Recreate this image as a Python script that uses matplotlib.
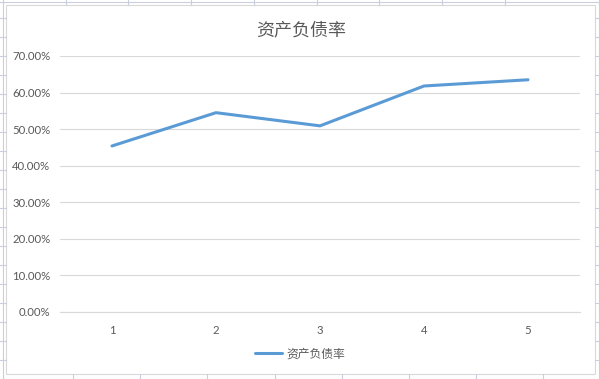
import matplotlib
matplotlib.use("Agg")
from matplotlib import pyplot as plt
from matplotlib.lines import Line2D
from matplotlib.patches import Rectangle
from matplotlib.ticker import PercentFormatter

# data
categories = [1, 2, 3, 4, 5]
debt_ratio = [0.454, 0.545, 0.509, 0.618, 0.635]
y_ticks = [0.0, 0.1, 0.2, 0.3, 0.4, 0.5, 0.6, 0.7]
title = "资产负债率"
series_name = "资产负债率"

W, H = 600, 379
cjk = ["Noto Sans CJK SC", "DejaVu Sans"]
txt_color = "#595959"
grid_color = "#d9d9d9"
line_color = "#5b9bd5"

fig = plt.figure(figsize=(W / 100, H / 100), dpi=100)
fig.patch.set_facecolor("white")


def px(x, y):
    # pixel (top-left origin) -> figure fraction
    return x / W, 1 - y / H


# spreadsheet cell lines showing around the chart
sheet = "#c9cfdc"
fig.add_artist(Line2D([0, 1], [1 - 1.5 / H] * 2, color=sheet, lw=0.8))
fig.add_artist(Line2D([2.5 / W] * 2, [0, 1], color=sheet, lw=0.8))
fig.add_artist(Line2D([1 - 1.5 / W] * 2, [0, 1], color=sheet, lw=0.8))
for xt in [66, 128, 191, 254, 317, 379, 442, 505]:
    fig.add_artist(Line2D([xt / W] * 2, [1 - 0 / H, 1 - 5 / H], color=sheet, lw=0.8))
for xb in [73, 140, 207, 275, 342, 409, 476, 543]:
    fig.add_artist(Line2D([xb / W] * 2, [0, 5 / H], color=sheet, lw=0.8))
for yr in range(18, H, 19):
    fig.add_artist(Line2D([0, 6 / W], [1 - yr / H] * 2, color=sheet, lw=0.8))
    fig.add_artist(Line2D([595 / W, 1], [1 - yr / H] * 2, color=sheet, lw=0.8))

# chart area border
x0, y0 = px(6, 374)
fig.add_artist(Rectangle((x0, y0), 589 / W, 369 / H, transform=fig.transFigure,
                         facecolor="white", edgecolor=grid_color, lw=0.8, zorder=0))

left, right = 60, 580
top, bottom = 56, 312
ax = fig.add_axes([left / W, 1 - bottom / H, (right - left) / W, (bottom - top) / H])
ax.set_facecolor("none")

ax.plot(categories, debt_ratio, color=line_color, lw=2.2,
        solid_capstyle="round", label=series_name, zorder=3)

ax.set_xlim(0.5, 5.5)
ax.set_ylim(0, 0.7)
ax.set_yticks(y_ticks)
ax.set_xticks(categories)
ax.yaxis.set_major_formatter(PercentFormatter(1.0, decimals=2))
ax.grid(axis="y", color=grid_color, lw=0.8)
ax.set_axisbelow(True)
for s in ["left", "right", "top"]:
    ax.spines[s].set_visible(False)
ax.spines["bottom"].set_color(grid_color)
ax.spines["bottom"].set_linewidth(0.8)
ax.tick_params(axis="both", length=0, colors=txt_color, labelsize=8.2)
ax.tick_params(axis="y", pad=7)
ax.tick_params(axis="x", pad=9)
for lab in ax.get_xticklabels() + ax.get_yticklabels():
    lab.set_family(["Lato", "DejaVu Sans"])

fig.text(301 / W, 1 - 30 / H, title, ha="center", va="center",
         fontsize=13, color=txt_color, family=cjk)

leg = fig.legend(loc="center", bbox_to_anchor=px(300, 354), frameon=False,
                 prop={"family": cjk, "size": 8.5}, handlelength=2.3,
                 handletextpad=0.3, labelcolor=txt_color)

fig.savefig("out.png", dpi=100)
